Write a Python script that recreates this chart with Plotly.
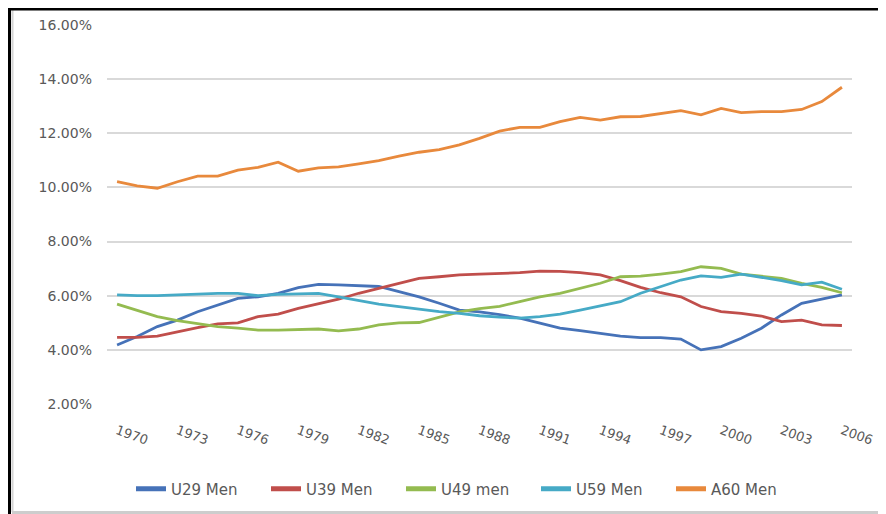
import plotly.graph_objects as go

years = list(range(1970, 2007))

u29_men = [4.18, 4.49, 4.86, 5.10, 5.41, 5.66, 5.90, 5.96, 6.09, 6.30,
           6.42, 6.40, 6.36, 6.34, 6.15, 5.96, 5.72, 5.47, 5.40, 5.30,
           5.17, 4.98, 4.80, 4.71, 4.61, 4.51, 4.45, 4.45, 4.40, 4.00,
           4.12, 4.43, 4.80, 5.29, 5.72, 5.87, 6.03]
u39_men = [4.46, 4.46, 4.51, 4.67, 4.82, 4.96, 5.00, 5.23, 5.32, 5.53,
           5.69, 5.87, 6.09, 6.27, 6.46, 6.64, 6.70, 6.77, 6.80, 6.83,
           6.85, 6.91, 6.90, 6.85, 6.77, 6.56, 6.31, 6.11, 5.96, 5.60,
           5.41, 5.35, 5.25, 5.04, 5.10, 4.92, 4.90]
u49_men = [5.69, 5.45, 5.23, 5.08, 4.96, 4.86, 4.80, 4.73, 4.73, 4.76,
           4.77, 4.70, 4.77, 4.92, 5.00, 5.01, 5.20, 5.40, 5.52, 5.61,
           5.78, 5.96, 6.09, 6.27, 6.46, 6.70, 6.72, 6.80, 6.89, 7.07,
           7.01, 6.80, 6.73, 6.64, 6.46, 6.31, 6.11]
u59_men = [6.03, 6.00, 6.00, 6.03, 6.06, 6.09, 6.09, 6.00, 6.05, 6.06,
           6.09, 5.96, 5.82, 5.69, 5.60, 5.50, 5.41, 5.35, 5.26, 5.21,
           5.17, 5.23, 5.32, 5.47, 5.62, 5.78, 6.09, 6.33, 6.58, 6.73,
           6.68, 6.80, 6.68, 6.56, 6.40, 6.50, 6.24]
a60_men = [10.21, 10.06, 9.97, 10.21, 10.42, 10.42, 10.64, 10.74, 10.93, 10.60,
           10.72, 10.76, 10.87, 10.99, 11.16, 11.30, 11.40, 11.57, 11.81, 12.08,
           12.22, 12.22, 12.43, 12.59, 12.49, 12.61, 12.62, 12.74, 12.84, 12.68,
           12.92, 12.76, 12.80, 12.80, 12.88, 13.17, 13.70]

series_names = ["U29 Men", "U39 Men", "U49 men", "U59 Men", "A60 Men"]
series_values = [u29_men, u39_men, u49_men, u59_men, a60_men]
series_colors = ["#4672B8", "#C04E4B", "#94BB50", "#46AAC6", "#E8893C"]

tick_years = list(range(1970, 2007, 3))
y_ticks = [0.02, 0.04, 0.06, 0.08, 0.10, 0.12, 0.14, 0.16]

# page has an 8px body margin; figure is sized to fit the 886x514 window
OFF = 8
W, H = 886 - OFF, 514 - OFF
# plot area in page pixels
L, R, T, B = 107 - OFF, 852 - OFF, 25 - OFF, 404 - OFF
PW, PH = R - L, B - T


def px(x_page):
    return (x_page - OFF - L) / PW


def py(y_page):
    return (B - (y_page - OFF)) / PH


fig = go.Figure()
for name, vals, col in zip(series_names, series_values, series_colors):
    fig.add_trace(go.Scatter(
        x=years, y=[v / 100 for v in vals], name=name, mode="lines",
        line=dict(color=col, width=2.8),
    ))

font_family = "DejaVu Sans, Lato, sans-serif"
txt = "#595959"

fig.update_layout(
    width=W, height=H,
    margin=dict(l=L, r=W - R, t=T, b=H - B, autoexpand=False),
    paper_bgcolor="white", plot_bgcolor="white",
    font=dict(family=font_family, size=13, color=txt),
    showlegend=True,
    legend=dict(
        orientation="h", x=px(131), xanchor="left", y=py(489), yanchor="middle",
        entrywidth=90, entrywidthmode="pixels",
        font=dict(family=font_family, size=15, color=txt),
        bgcolor="rgba(0,0,0,0)", itemsizing="constant",
    ),
    xaxis=dict(
        range=[1969.5, 2006.5], tickmode="array", tickvals=tick_years,
        ticktext=[str(y) for y in tick_years], tickangle=20,
        showgrid=False, zeroline=False, showline=False, ticks="",
        ticklabelstandoff=16, automargin=False,
        tickfont=dict(family=font_family, size=13, color=txt),
    ),
    yaxis=dict(
        range=[0.02, 0.16], tickmode="array", tickvals=y_ticks,
        tickformat=".2%", showgrid=True, gridcolor="#D9D9D9", gridwidth=2,
        zeroline=False, showline=False, ticks="", ticklabelstandoff=14,
        automargin=False,
        tickfont=dict(family=font_family, size=14, color=txt),
    ),
    shapes=[
        # inner light-grey frame (left and bottom)
        dict(type="line", xref="paper", yref="paper",
             x0=px(12.5), x1=px(12.5), y0=py(8), y1=py(512),
             line=dict(color="#D4D4D4", width=2)),
        dict(type="line", xref="paper", yref="paper",
             x0=px(12), x1=px(900), y0=py(512.5), y1=py(512.5),
             line=dict(color="#CDCDCD", width=3)),
        # outer black frame (top and left)
        dict(type="line", xref="paper", yref="paper",
             x0=px(8), x1=px(900), y0=py(9), y1=py(9),
             line=dict(color="black", width=3)),
        dict(type="line", xref="paper", yref="paper",
             x0=px(9.5), x1=px(9.5), y0=py(8), y1=py(520),
             line=dict(color="black", width=3)),
    ],
)

fig.write_html("out.html")
